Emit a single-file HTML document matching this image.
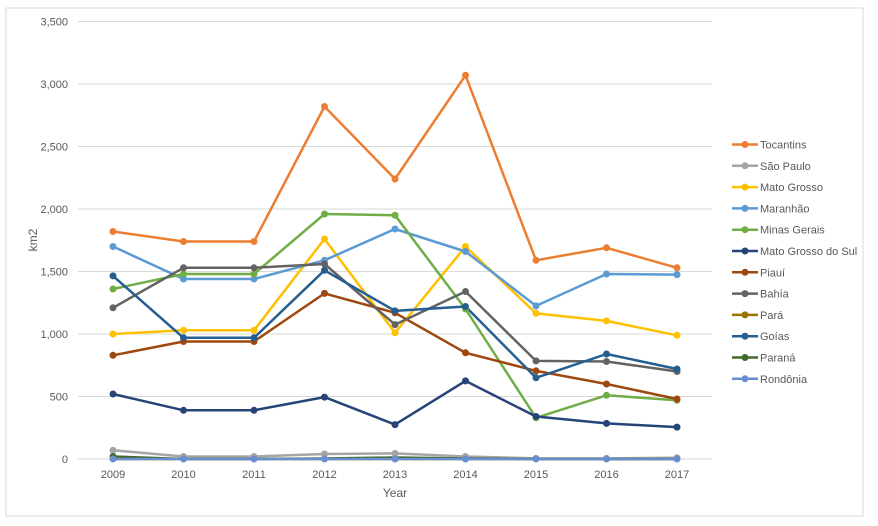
<!DOCTYPE html>
<html><head><meta charset="utf-8"><style>
html,body{margin:0;padding:0;background:#fff;}
svg{display:block;font-family:"Liberation Sans",sans-serif;}
</style></head><body>
<svg width="878" height="526" viewBox="0 0 878 526" xmlns="http://www.w3.org/2000/svg">
<rect x="6" y="8" width="857" height="508" fill="#fff" stroke="#d9d9d9" stroke-width="1"/>
<g stroke="#d9d9d9" stroke-width="1">
<line x1="78" x2="712" y1="21.5" y2="21.5"/>
<line x1="78" x2="712" y1="84" y2="84"/>
<line x1="78" x2="712" y1="146.5" y2="146.5"/>
<line x1="78" x2="712" y1="209" y2="209"/>
<line x1="78" x2="712" y1="271.5" y2="271.5"/>
<line x1="78" x2="712" y1="334" y2="334"/>
<line x1="78" x2="712" y1="396.5" y2="396.5"/>
<line x1="78" x2="712" y1="459" y2="459"/>
</g>
<g font-size="11" fill="#595959" text-anchor="end">
<text x="68" y="25.5">3,500</text>
<text x="68" y="88">3,000</text>
<text x="68" y="150.5">2,500</text>
<text x="68" y="213">2,000</text>
<text x="68" y="275.5">1,500</text>
<text x="68" y="338">1,000</text>
<text x="68" y="400.5">500</text>
<text x="68" y="463">0</text>
</g>
<g font-size="11" fill="#595959" text-anchor="middle">
<text x="113" y="478">2009</text><text x="183.5" y="478">2010</text><text x="254" y="478">2011</text>
<text x="324.5" y="478">2012</text><text x="395" y="478">2013</text><text x="465.5" y="478">2014</text>
<text x="536" y="478">2015</text><text x="606.5" y="478">2016</text><text x="677" y="478">2017</text>
<text x="395" y="497" font-size="12">Year</text>
<text transform="translate(37,240) rotate(-90)" font-size="12">km2</text>
</g>
<g fill="none" stroke-width="2.5" stroke-linejoin="round">
<polyline stroke="#ED7D31" points="113,231.5 183.5,241.5 254,241.5 324.5,106.5 395,179 465.5,75.3 536,260.3 606.5,247.8 677,267.8"/>
<polyline stroke="#A5A5A5" points="113,450.3 183.5,456.5 254,456.5 324.5,454 395,453.4 465.5,456.5 536,458.4 606.5,458.4 677,457.8"/>
<polyline stroke="#FFC000" points="113,334 183.5,330.3 254,330.3 324.5,239 395,332.8 465.5,246.5 536,313.4 606.5,320.9 677,335.3"/>
<polyline stroke="#5B9BD5" points="113,246.5 183.5,279 254,279 324.5,260.3 395,229 465.5,251.5 536,305.9 606.5,274 677,274.6"/>
<polyline stroke="#70AD47" points="113,289 183.5,274 254,274 324.5,214 395,215.3 465.5,309 536,417.8 606.5,395.3 677,400.3"/>
<polyline stroke="#264478" points="113,394 183.5,410.3 254,410.3 324.5,397.1 395,424.6 465.5,380.9 536,416.5 606.5,423.4 677,427.1"/>
<polyline stroke="#9E480E" points="113,355.3 183.5,341.5 254,341.5 324.5,293.4 395,312.8 465.5,352.8 536,370.9 606.5,384 677,399"/>
<polyline stroke="#636363" points="113,307.8 183.5,267.8 254,267.8 324.5,264 395,324.6 465.5,291.5 536,360.9 606.5,361.5 677,371.5"/>
<polyline stroke="#997300" points="113,459 183.5,459 254,459 324.5,459 395,459 465.5,459 536,459 606.5,459 677,459"/>
<polyline stroke="#255E91" points="113,275.9 183.5,337.8 254,337.8 324.5,270.3 395,310.9 465.5,306.5 536,377.8 606.5,354 677,369"/>
<polyline stroke="#43682B" points="113,456.5 183.5,459 254,459 324.5,458.5 395,457.5 465.5,458.5 536,459 606.5,459 677,459"/>
<polyline stroke="#698ED0" points="113,459 183.5,459 254,459 324.5,459 395,459 465.5,459 536,459 606.5,459 677,459"/>
</g>
<g>
<g fill="#ED7D31"><circle cx="113" cy="231.5" r="3.5"/><circle cx="183.5" cy="241.5" r="3.5"/><circle cx="254" cy="241.5" r="3.5"/><circle cx="324.5" cy="106.5" r="3.5"/><circle cx="395" cy="179" r="3.5"/><circle cx="465.5" cy="75.3" r="3.5"/><circle cx="536" cy="260.3" r="3.5"/><circle cx="606.5" cy="247.8" r="3.5"/><circle cx="677" cy="267.8" r="3.5"/></g>
<g fill="#A5A5A5"><circle cx="113" cy="450.3" r="3.5"/><circle cx="183.5" cy="456.5" r="3.5"/><circle cx="254" cy="456.5" r="3.5"/><circle cx="324.5" cy="454" r="3.5"/><circle cx="395" cy="453.4" r="3.5"/><circle cx="465.5" cy="456.5" r="3.5"/><circle cx="536" cy="458.4" r="3.5"/><circle cx="606.5" cy="458.4" r="3.5"/><circle cx="677" cy="457.8" r="3.5"/></g>
<g fill="#FFC000"><circle cx="113" cy="334" r="3.5"/><circle cx="183.5" cy="330.3" r="3.5"/><circle cx="254" cy="330.3" r="3.5"/><circle cx="324.5" cy="239" r="3.5"/><circle cx="395" cy="332.8" r="3.5"/><circle cx="465.5" cy="246.5" r="3.5"/><circle cx="536" cy="313.4" r="3.5"/><circle cx="606.5" cy="320.9" r="3.5"/><circle cx="677" cy="335.3" r="3.5"/></g>
<g fill="#5B9BD5"><circle cx="113" cy="246.5" r="3.5"/><circle cx="183.5" cy="279" r="3.5"/><circle cx="254" cy="279" r="3.5"/><circle cx="324.5" cy="260.3" r="3.5"/><circle cx="395" cy="229" r="3.5"/><circle cx="465.5" cy="251.5" r="3.5"/><circle cx="536" cy="305.9" r="3.5"/><circle cx="606.5" cy="274" r="3.5"/><circle cx="677" cy="274.6" r="3.5"/></g>
<g fill="#70AD47"><circle cx="113" cy="289" r="3.5"/><circle cx="183.5" cy="274" r="3.5"/><circle cx="254" cy="274" r="3.5"/><circle cx="324.5" cy="214" r="3.5"/><circle cx="395" cy="215.3" r="3.5"/><circle cx="465.5" cy="309" r="3.5"/><circle cx="536" cy="417.8" r="3.5"/><circle cx="606.5" cy="395.3" r="3.5"/><circle cx="677" cy="400.3" r="3.5"/></g>
<g fill="#264478"><circle cx="113" cy="394" r="3.5"/><circle cx="183.5" cy="410.3" r="3.5"/><circle cx="254" cy="410.3" r="3.5"/><circle cx="324.5" cy="397.1" r="3.5"/><circle cx="395" cy="424.6" r="3.5"/><circle cx="465.5" cy="380.9" r="3.5"/><circle cx="536" cy="416.5" r="3.5"/><circle cx="606.5" cy="423.4" r="3.5"/><circle cx="677" cy="427.1" r="3.5"/></g>
<g fill="#9E480E"><circle cx="113" cy="355.3" r="3.5"/><circle cx="183.5" cy="341.5" r="3.5"/><circle cx="254" cy="341.5" r="3.5"/><circle cx="324.5" cy="293.4" r="3.5"/><circle cx="395" cy="312.8" r="3.5"/><circle cx="465.5" cy="352.8" r="3.5"/><circle cx="536" cy="370.9" r="3.5"/><circle cx="606.5" cy="384" r="3.5"/><circle cx="677" cy="399" r="3.5"/></g>
<g fill="#636363"><circle cx="113" cy="307.8" r="3.5"/><circle cx="183.5" cy="267.8" r="3.5"/><circle cx="254" cy="267.8" r="3.5"/><circle cx="324.5" cy="264" r="3.5"/><circle cx="395" cy="324.6" r="3.5"/><circle cx="465.5" cy="291.5" r="3.5"/><circle cx="536" cy="360.9" r="3.5"/><circle cx="606.5" cy="361.5" r="3.5"/><circle cx="677" cy="371.5" r="3.5"/></g>
<g fill="#255E91"><circle cx="113" cy="275.9" r="3.5"/><circle cx="183.5" cy="337.8" r="3.5"/><circle cx="254" cy="337.8" r="3.5"/><circle cx="324.5" cy="270.3" r="3.5"/><circle cx="395" cy="310.9" r="3.5"/><circle cx="465.5" cy="306.5" r="3.5"/><circle cx="536" cy="377.8" r="3.5"/><circle cx="606.5" cy="354" r="3.5"/><circle cx="677" cy="369" r="3.5"/></g>
<g fill="#43682B"><circle cx="113" cy="456.5" r="3.5"/></g>
<g fill="#698ED0"><circle cx="113" cy="459" r="3.5"/><circle cx="183.5" cy="459" r="3.5"/><circle cx="254" cy="459" r="3.5"/><circle cx="324.5" cy="459" r="3.5"/><circle cx="395" cy="459" r="3.5"/><circle cx="465.5" cy="459" r="3.5"/><circle cx="536" cy="459" r="3.5"/><circle cx="606.5" cy="459" r="3.5"/><circle cx="677" cy="459" r="3.5"/></g>
</g>
<g font-size="11" fill="#595959" stroke-width="2.5">
<line x1="732" x2="758" y1="144.5" y2="144.5" stroke="#ED7D31"/><circle cx="745" cy="144.5" r="3.5" fill="#ED7D31"/><text x="760" y="148.5">Tocantins</text>
<line x1="732" x2="758" y1="165.8" y2="165.8" stroke="#A5A5A5"/><circle cx="745" cy="165.8" r="3.5" fill="#A5A5A5"/><text x="760" y="169.8">São Paulo</text>
<line x1="732" x2="758" y1="187.1" y2="187.1" stroke="#FFC000"/><circle cx="745" cy="187.1" r="3.5" fill="#FFC000"/><text x="760" y="191.1">Mato Grosso</text>
<line x1="732" x2="758" y1="208.4" y2="208.4" stroke="#5B9BD5"/><circle cx="745" cy="208.4" r="3.5" fill="#5B9BD5"/><text x="760" y="212.4">Maranhão</text>
<line x1="732" x2="758" y1="229.7" y2="229.7" stroke="#70AD47"/><circle cx="745" cy="229.7" r="3.5" fill="#70AD47"/><text x="760" y="233.7">Minas Gerais</text>
<line x1="732" x2="758" y1="251" y2="251" stroke="#264478"/><circle cx="745" cy="251" r="3.5" fill="#264478"/><text x="760" y="255">Mato Grosso do Sul</text>
<line x1="732" x2="758" y1="272.3" y2="272.3" stroke="#9E480E"/><circle cx="745" cy="272.3" r="3.5" fill="#9E480E"/><text x="760" y="276.3">Piauí</text>
<line x1="732" x2="758" y1="293.6" y2="293.6" stroke="#636363"/><circle cx="745" cy="293.6" r="3.5" fill="#636363"/><text x="760" y="297.6">Bahía</text>
<line x1="732" x2="758" y1="314.9" y2="314.9" stroke="#997300"/><circle cx="745" cy="314.9" r="3.5" fill="#997300"/><text x="760" y="318.9">Pará</text>
<line x1="732" x2="758" y1="336.2" y2="336.2" stroke="#255E91"/><circle cx="745" cy="336.2" r="3.5" fill="#255E91"/><text x="760" y="340.2">Goías</text>
<line x1="732" x2="758" y1="357.5" y2="357.5" stroke="#43682B"/><circle cx="745" cy="357.5" r="3.5" fill="#43682B"/><text x="760" y="361.5">Paraná</text>
<line x1="732" x2="758" y1="378.8" y2="378.8" stroke="#698ED0"/><circle cx="745" cy="378.8" r="3.5" fill="#698ED0"/><text x="760" y="382.8">Rondônia</text>
</g>
</svg>
</body></html>
